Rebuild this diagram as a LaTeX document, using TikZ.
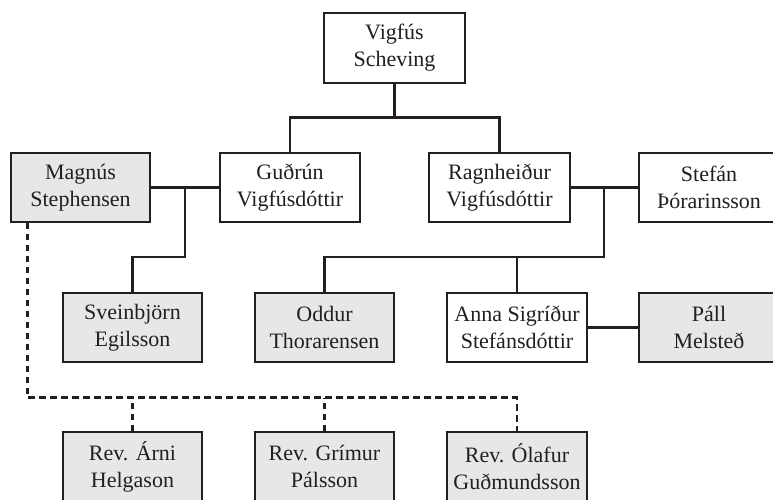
\documentclass[tikz,border=0pt]{standalone}
\usepackage{fontspec}
\setmainfont{Liberation Serif}
\usetikzlibrary{calc}
\definecolor{boxgray}{RGB}{230,231,233}
\definecolor{inkcol}{RGB}{35,31,32}
\tikzset{
  person/.style={draw=inkcol, line width=1.2pt, rectangle, minimum width=140pt, minimum height=69pt,
    inner sep=0pt, align=center, font=\fontsize{22pt}{27pt}\selectfont, text=inkcol, fill=white},
  grayp/.style={person, fill=boxgray},
  link/.style={draw=inkcol, line width=2.7pt},
  dlink/.style={draw=inkcol, line width=2.7pt, dash pattern=on 6.5pt off 4.5pt}
}
\begin{document}
\begin{tikzpicture}[x=1pt,y=-1pt]
\useasboundingbox (0,0) rectangle (773,499);
\clip (0,0) rectangle (773,499);
\fill[white] (0,0) rectangle (773,499);
% nodes
\node[person, minimum width=141pt, minimum height=70pt] (v) at (394.5,48) {Vigfús\\Scheving};
\node[grayp, minimum width=139pt] (m) at (80.5,187.5) {Magnús\\Stephensen};
\node[person] (g) at (290,187.5) {Guðrún\\Vigfúsdóttir};
\node[person, minimum width=141pt] (r) at (499.5,187.5) {Ragnheiður\\Vigfúsdóttir};
\node[person] (st) at (709,187.5) {Stefán\\Þórarinsson};
\node[grayp, minimum width=139pt] (s) at (132.5,327.5) {Sveinbjörn\\Egilsson};
\node[grayp, minimum width=139pt] (o) at (324.5,327.5) {Oddur\\Thorarensen};
\node[person] (a) at (517,327.5) {Anna Sigríður\\Stefánsdóttir};
\node[grayp] (p) at (709,327.5) {Páll\\Melsteð};
\node[grayp, minimum width=139pt] (ar) at (132.5,466.5) {Rev. Árni\\Helgason};
\node[grayp, minimum width=139pt] (gr) at (324.5,466.5) {Rev. Grímur\\Pálsson};
\node[grayp] (ol) at (517,466.5) {Rev. Ólafur\\Guðmundsson};
% solid connectors
\draw[link] (v.south) -- ++(0,34) coordinate (vb) -| (g.north);
\draw[link] (vb) -| (r.north);
\draw[link] (m.east) -- (g.west);
\coordinate (mg) at (185,187.5);
\draw[link] (mg) -- ++(0,69.5) -| (s.north);
\draw[link] (r.east) -- (st.west);
\coordinate (rs) at (604,187.5);
\draw[link] (rs) -- ++(0,69.5) coordinate (rsb) -| (o.north);
\draw[link] (a.north) -- (a.north |- rsb);
\draw[link] (a.east) -- (p.west);
% dashed connectors
\coordinate (md) at ($(m.south west)+(17,0)$);
\draw[dlink] (md) -- ++(0,175) coordinate (dl) -| (ol.north);
\draw[dlink] (ar.north) -- (ar.north |- dl);
\draw[dlink] (gr.north) -- (gr.north |- dl);
\end{tikzpicture}
\end{document}
